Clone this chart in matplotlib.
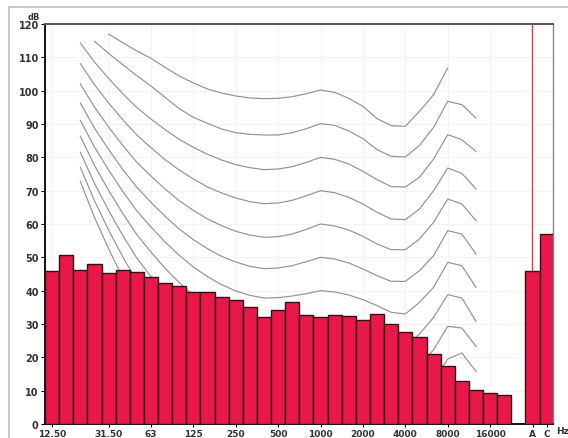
import matplotlib
matplotlib.use("Agg")
import matplotlib.pyplot as plt
from matplotlib.lines import Line2D

# 1/3-octave band centre frequencies (Hz) and measured band levels (dB)
bands = ["12.5", "16", "20", "25", "31.5", "40", "50", "63", "80", "100",
         "125", "160", "200", "250", "315", "400", "500", "630", "800", "1000",
         "1250", "1600", "2000", "2500", "3150", "4000", "5000", "6300", "8000",
         "10000", "12500", "16000", "20000"]
levels = [45.8, 50.8, 46.3, 48.0, 45.4, 46.2, 45.5, 44.1, 42.3, 41.3,
          39.5, 39.6, 38.1, 37.1, 35.0, 32.0, 34.2, 36.6, 32.6, 32.1,
          32.8, 32.5, 31.1, 33.1, 30.0, 27.5, 26.1, 21.1, 17.3,
          13.0, 10.3, 9.3, 8.6]

# Overall weighted levels
weighted_names = ["A", "C"]
weighted_levels = [45.9, 57.0]

# Equal-loudness contours: band index (20 Hz = 2 ... 12.5 kHz = 30) and level per phon curve
contour_start = {100: 4, 90: 3}
phon_0 = [72.8, 62.0, 52.6, 43.9, 35.9, 29.4, 23.3, 17.9, 13.2, 9.2, 5.9, 3.4, 1.6, 1.0,
          1.2, 1.5, 1.8, 2.0, 1.7, 0.8, -0.5, -2.0, -3.5, -3.7, 0.0, 5.0, 12.0, 12.5, 7.0]
phon_10 = [77.0, 67.0, 58.2, 50.2, 42.8, 36.8, 31.1, 26.1, 21.7, 18.0, 15.0, 12.7, 11.5, 11.0,
           10.7, 10.4, 10.2, 10.0, 9.7, 8.8, 7.5, 6.0, 4.5, 4.3, 8.0, 13.0, 19.5, 21.3, 15.8]
phon_20 = [81.5, 72.2, 64.1, 56.6, 49.8, 44.2, 38.9, 34.2, 30.2, 26.8, 24.0, 21.8, 20.2, 19.3,
           19.3, 19.5, 19.7, 20.0, 19.7, 18.8, 17.5, 16.0, 14.3, 14.0, 17.5, 22.3, 29.3, 28.8, 23.3]
phon_30 = [86.3, 77.6, 70.1, 63.2, 56.8, 51.6, 46.7, 42.4, 38.6, 35.4, 32.8, 30.8, 29.4, 28.5,
           28.6, 28.9, 29.4, 30.0, 29.6, 28.7, 27.3, 25.6, 23.8, 23.5, 27.0, 32.0, 38.8, 37.8, 30.8]
phon_40 = [91.1, 83.1, 76.2, 69.8, 63.9, 59.1, 54.6, 50.6, 47.1, 44.2, 41.8, 39.9, 38.6, 37.8,
           37.9, 38.4, 39.1, 40.0, 39.6, 38.7, 37.3, 35.5, 33.5, 33.0, 36.5, 41.0, 48.5, 47.5, 41.0]
phon_50 = [96.3, 88.8, 82.4, 76.4, 71.0, 66.5, 62.3, 58.5, 55.3, 52.6, 50.3, 48.6, 47.3, 46.6,
           46.8, 47.5, 48.7, 50.0, 49.5, 48.3, 46.5, 44.5, 42.8, 42.8, 46.0, 50.5, 58.0, 57.0, 51.0]
phon_60 = [102.0, 95.1, 89.1, 83.6, 78.5, 74.4, 70.5, 67.0, 64.1, 61.5, 59.5, 57.8, 56.7, 56.0,
           56.2, 57.0, 58.4, 60.0, 59.4, 58.2, 56.3, 54.0, 52.3, 52.3, 55.5, 60.5, 67.5, 66.0, 61.0]
phon_70 = [108.1, 101.8, 96.3, 91.3, 86.7, 82.9, 79.3, 76.2, 73.5, 71.1, 69.3, 67.8, 66.7, 66.1,
           66.3, 67.1, 68.5, 70.0, 69.4, 68.0, 66.0, 63.5, 61.5, 61.3, 64.5, 70.0, 76.8, 75.2, 70.5]
phon_80 = [114.3, 108.6, 103.7, 99.1, 94.9, 91.5, 88.3, 85.4, 83.0, 80.9, 79.2, 77.8, 76.9, 76.3,
           76.5, 77.2, 78.5, 80.0, 79.4, 78.0, 75.8, 73.3, 71.2, 71.1, 74.0, 79.5, 86.8, 85.3, 81.8]
phon_90 = [114.8, 111.2, 107.8, 104.5, 101.4, 98.0, 94.6, 92.0, 90.2, 88.5, 87.4, 86.9, 86.7,
           86.7, 87.4, 88.6, 90.1, 89.6, 87.9, 85.6, 82.3, 80.3, 80.1, 83.6, 89.0, 96.8, 95.8, 91.8]
phon_100 = [117.0, 114.4, 111.9, 109.7, 107.0, 104.4, 102.3, 100.5, 99.3, 98.4, 97.8, 97.6,
            97.7, 98.2, 99.1, 100.2, 99.5, 97.7, 95.3, 91.6, 89.5, 89.3, 93.8, 98.8, 106.8]
contours = {0: phon_0, 10: phon_10, 20: phon_20, 30: phon_30, 40: phon_40, 50: phon_50,
            60: phon_60, 70: phon_70, 80: phon_80, 90: phon_90, 100: phon_100}

tick_pos = [0, 4, 7, 10, 13, 16, 19, 22, 25, 28, 31, 34, 35]
tick_labels = ["12.50", "31.50", "63", "125", "250", "500", "1000", "2000",
               "4000", "8000", "16000", "A", "C"]

W, H = 568, 439
fig = plt.figure(figsize=(W / 100, H / 100), dpi=100)
fig.patch.set_facecolor("white")

# frame around the panel
fig.add_artist(Line2D([9 / W, 9 / W], [0, 1 - 8 / H], color="#bdbdbd", lw=1.2))
fig.add_artist(Line2D([9 / W, 1], [1 - 8 / H, 1 - 8 / H], color="#bdbdbd", lw=1.2))

ax = fig.add_axes([45 / W, 14 / H, 508 / W, 400 / H])
ax.set_xlim(-0.5, 35.45)
ax.set_ylim(0, 120)

# light grid
for p in tick_pos[:-2]:
    ax.axvline(p, color="#f3f3f3", lw=0.8, zorder=0)
for y in range(10, 120, 10):
    ax.axhline(y, color="#f3f3f3", lw=0.8, zorder=0)

# loudness contours
for phon, vals in contours.items():
    start = contour_start.get(phon, 2)
    xs = list(range(start, start + len(vals)))
    ax.plot(xs, vals, color="#939393", lw=0.85, zorder=1)

bar_color = "#e8184b"
edge_color = "#3c0a14"
ax.bar(range(len(levels)), levels, width=1.0, color=bar_color,
       edgecolor=edge_color, linewidth=1.0, zorder=3)
ax.bar([34, 35], weighted_levels, width=1.0, color=bar_color,
       edgecolor=edge_color, linewidth=1.0, zorder=3)

# cursor line
ax.axvline(33.95, color="#e04040", lw=1.0, zorder=2)

ax.set_yticks(range(0, 121, 10))
ax.set_xticks(tick_pos)
ax.set_xticklabels(tick_labels)
ax.tick_params(axis="y", labelsize=7, length=3, width=0.8, pad=1.5)
ax.tick_params(axis="x", labelsize=6.5, length=2.5, width=0.8, pad=0.8)
for lbl in ax.get_yticklabels() + ax.get_xticklabels():
    lbl.set_fontweight("bold")
    lbl.set_color("#333333")

for side in ["left", "bottom"]:
    ax.spines[side].set_color("#111111")
    ax.spines[side].set_linewidth(1.4)
ax.spines["top"].set_color("#555555")
ax.spines["top"].set_linewidth(1.4)
ax.spines["right"].set_color("#888888")
ax.spines["right"].set_linewidth(1.0)

fig.text(28 / W, 1 - 18 / H, "dB", fontsize=6, fontweight="bold",
         color="#333333", va="center", ha="left")
fig.text(556 / W, 1 - 432 / H, "Hz", fontsize=6.5, fontweight="bold",
         color="#333333", va="center", ha="left")

fig.savefig("out.png", dpi=100)
